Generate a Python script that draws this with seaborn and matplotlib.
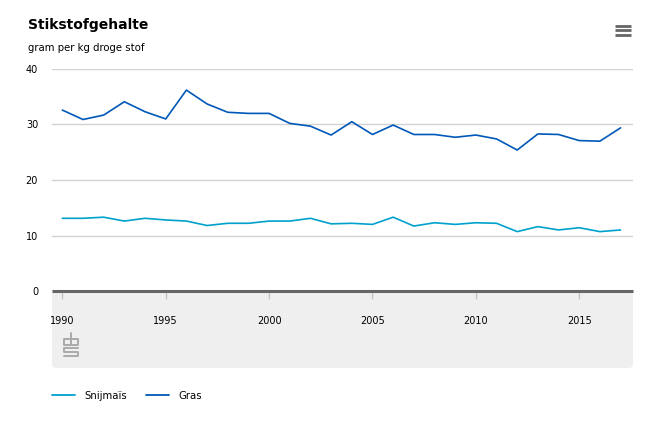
import numpy as np
import pandas as pd
import matplotlib
matplotlib.use('Agg')
import matplotlib.pyplot as plt
from matplotlib.patches import FancyBboxPatch
from matplotlib.lines import Line2D
import seaborn as sns

# DATA
years = list(range(1990, 2018))
snijmais = [13.1, 13.1, 13.3, 12.6, 13.1, 12.8, 12.6, 11.8, 12.2, 12.2,
            12.6, 12.6, 13.1, 12.1, 12.2, 12.0, 13.3, 11.7, 12.3, 12.0,
            12.3, 12.2, 10.7, 11.6, 11.0, 11.4, 10.7, 11.0]
gras = [32.6, 30.9, 31.7, 34.1, 32.3, 31.0, 36.2, 33.7, 32.2, 32.0,
        32.0, 30.2, 29.7, 28.1, 30.5, 28.2, 29.9, 28.2, 28.2, 27.7,
        28.1, 27.4, 25.4, 28.3, 28.2, 27.1, 27.0, 29.4]
series_names = ['Snijmaïs', 'Gras']
xticks = [1990, 1995, 2000, 2005, 2010, 2015]
yticks = [0, 10, 20, 30, 40]

df = pd.DataFrame({
    'Jaar': years * 2,
    'Waarde': snijmais + gras,
    'Gewas': [series_names[0]] * len(years) + [series_names[1]] * len(years),
})

sns.set_theme(style='white')
plt.rcParams['font.family'] = ['DejaVu Sans']
plt.rcParams['text.color'] = '#000000'

fig = plt.figure(figsize=(6.71, 4.21), dpi=100)
W, H = 671, 421
ax = fig.add_axes([52 / W, 1 - 291 / H, (633 - 52) / W, (291 - 69) / H])

# grey band under the x axis
band = FancyBboxPatch((52 / W, 1 - 368 / H), (633 - 52) / W, (368 - 291) / H,
                      boxstyle='round,pad=0,rounding_size=0.008',
                      transform=fig.transFigure, facecolor='#efefef',
                      edgecolor='none', zorder=0, clip_on=False)
ax.add_patch(band)

palette = {'Snijmaïs': '#00a1cd', 'Gras': '#0058b8'}
sns.lineplot(data=df, x='Jaar', y='Waarde', hue='Gewas', hue_order=series_names,
             palette=palette, linewidth=1.2, ax=ax, legend=False)

ax.set_xlim(1989.5, 2017.6)
ax.set_ylim(0, 40)
ax.set_yticks(yticks)
ax.set_yticklabels([str(t) for t in yticks])
ax.set_xticks(xticks)
ax.set_xticklabels([str(t) for t in xticks])
ax.set_xlabel('')
ax.set_ylabel('')
ax.grid(axis='y', color='#d2d2d2', linewidth=1)
ax.grid(axis='x', visible=False)
for s in ['top', 'right', 'left']:
    ax.spines[s].set_visible(False)
ax.spines['bottom'].set_color('#666666')
ax.spines['bottom'].set_linewidth(2.2)
ax.spines['bottom'].set_capstyle('butt')
ax.tick_params(axis='y', length=0, labelsize=7, pad=10, labelcolor='#000000')
ax.tick_params(axis='x', length=6, width=1, color='#c4c4c4', labelsize=7,
               pad=12, direction='out', bottom=True, labelcolor='#000000')
ax.patch.set_alpha(0)

# title and subtitle
fig.text(28 / W, 1 - 25 / H, 'Stikstofgehalte', fontsize=10, fontweight='bold',
         va='center', ha='left', color='#000000')
fig.text(28 / W, 1 - 48 / H, 'gram per kg droge stof', fontsize=7.3,
         va='center', ha='left', color='#000000')

# menu icon
for yy in [25.5, 30, 34.5]:
    fig.add_artist(Line2D([615 / W, 631 / W], [1 - yy / H, 1 - yy / H],
                          color='#666666', linewidth=2, solid_capstyle='butt'))

# small cbs logo
logo = [
    ([72, 64, 64, 72], [339, 339, 345, 345]),
    ([71, 71, 78, 78, 71], [333, 345, 345, 339, 339]),
    ([78, 64, 64, 78, 78, 64], [348, 348, 351.5, 351.5, 356, 356]),
]
for xs, ys in logo:
    fig.add_artist(Line2D([x / W for x in xs], [1 - y / H for y in ys],
                          color='#aaaaaa', linewidth=1.4))

# legend
handles = [Line2D([0], [0], color=palette[n], linewidth=1.3) for n in series_names]
fig.legend(handles, series_names, loc='center left',
           bbox_to_anchor=(43 / W, 1 - 396 / H), ncol=2, frameon=False,
           fontsize=7.3, handlelength=2.3, handletextpad=0.9, columnspacing=1.8,
           labelcolor='#000000')

fig.savefig('out.png', dpi=100)
